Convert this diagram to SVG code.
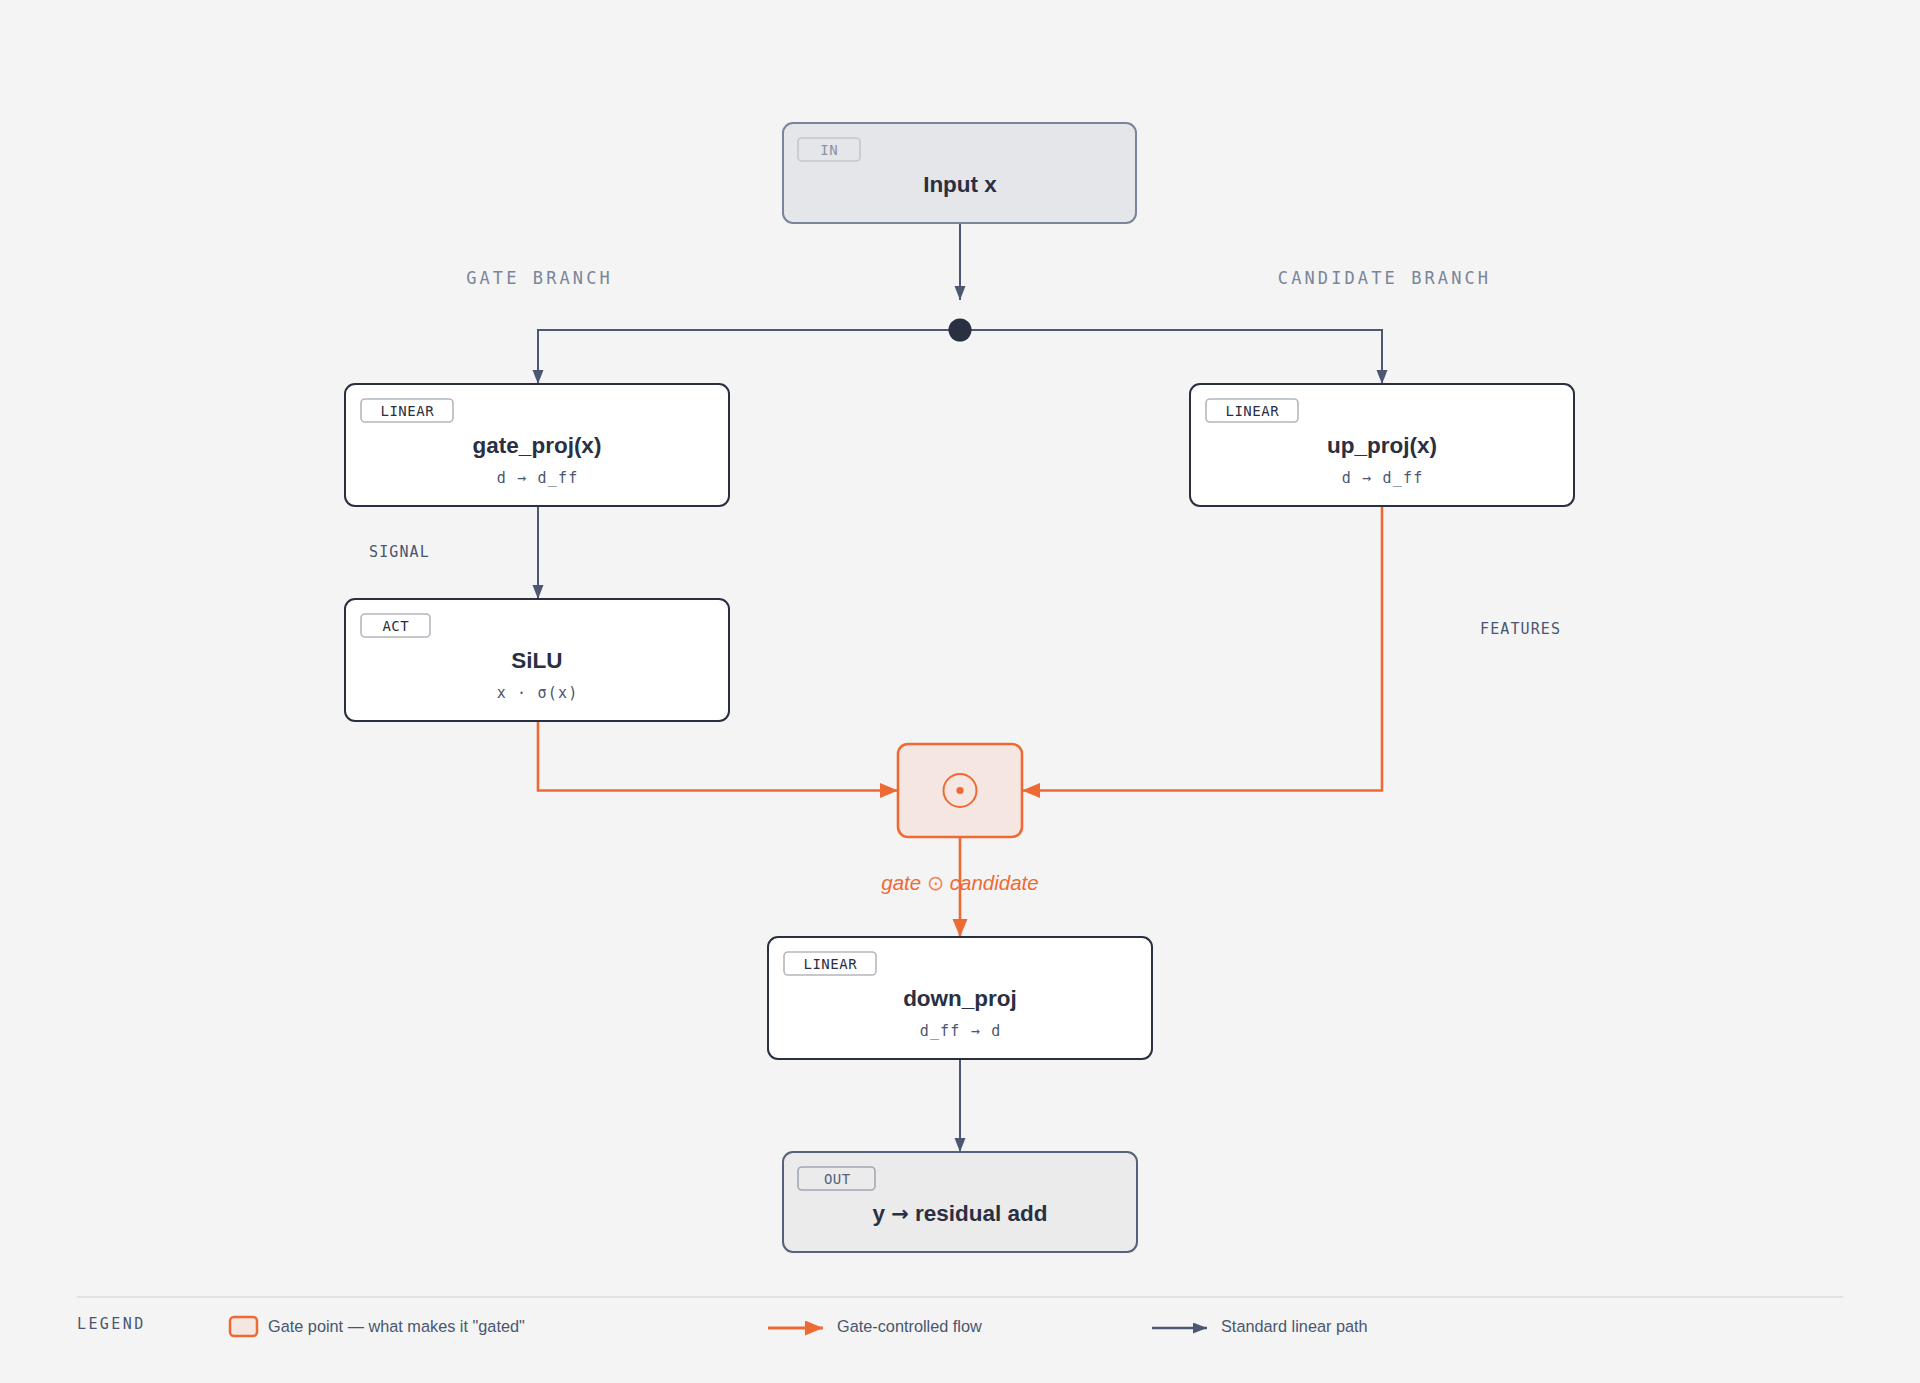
<svg xmlns="http://www.w3.org/2000/svg" width="1920" height="1383" viewBox="0 0 1920 1383">
<defs>
<style>
.bg{fill:#f4f4f4}
.box{fill:#ffffff;stroke:#2a2f42;stroke-width:2}
.tag{fill:#ffffff;stroke:#b4b7be;stroke-width:1.6}
.tagt{font-family:"DejaVu Sans Mono","Liberation Mono",monospace;font-size:14px;letter-spacing:0.5px;fill:#2a2f42;text-anchor:middle}
.title{font-family:"Liberation Sans",Arial,sans-serif;font-size:22.5px;font-weight:bold;fill:#2a2f42;text-anchor:middle}
.sub{font-family:"DejaVu Sans Mono","Liberation Mono",monospace;font-size:15px;letter-spacing:1.2px;fill:#4a5670;text-anchor:middle}
.branch{font-family:"DejaVu Sans Mono","Liberation Mono",monospace;font-size:17px;letter-spacing:3.1px;fill:#7a859a;text-anchor:middle}
.elabel{font-family:"DejaVu Sans Mono","Liberation Mono",monospace;font-size:15px;letter-spacing:1.1px;fill:#4a5670}
.gray{fill:none;stroke:#4c5872;stroke-width:2}
.orange{fill:none;stroke:#ee6a35;stroke-width:2.6}
.legt{font-family:"Liberation Sans",Arial,sans-serif;font-size:16.3px;fill:#4a5670}
</style>
<marker id="ag" markerUnits="userSpaceOnUse" markerWidth="14" markerHeight="12" refX="14" refY="5.5" orient="auto">
<path d="M0,0 L14,5.5 L0,11 z" fill="#4c5872"/>
</marker>
<marker id="ao" markerUnits="userSpaceOnUse" markerWidth="18" markerHeight="16" refX="18" refY="7.5" orient="auto">
<path d="M0,0 L18,7.5 L0,15 z" fill="#ee6a35"/>
</marker>
</defs>
<rect class="bg" x="0" y="0" width="1920" height="1383"/>

<text class="branch" x="539.5" y="284">GATE BRANCH</text>
<text class="branch" x="1384.5" y="284">CANDIDATE BRANCH</text>
<text class="elabel" x="369" y="557">SIGNAL</text>
<text class="elabel" x="1480" y="634">FEATURES</text>

<g id="connectors">
<path class="gray" d="M960,223 V300" marker-end="url(#ag)"/>
<path class="gray" d="M538,384 V330 H1382 V384"/>
<path class="gray" d="M538,330 V384" marker-end="url(#ag)"/>
<path class="gray" d="M1382,330 V384" marker-end="url(#ag)"/>
<circle cx="960" cy="330" r="11.5" fill="#2a2f42"/>
<path class="gray" d="M538,507 V599" marker-end="url(#ag)"/>
<path class="orange" d="M538,722 V790.5 H898" marker-end="url(#ao)"/>
<path class="orange" d="M1382,507 V790.5 H1022" marker-end="url(#ao)"/>
<text x="960" y="890" font-family="Liberation Sans,Arial,sans-serif" font-size="20.5" font-style="italic" fill="#ee6a35" text-anchor="middle">gate <tspan font-style="normal" font-family="DejaVu Sans,sans-serif" fill="#f0875a">⊙</tspan> candidate</text>
<path class="orange" d="M960,838 V937" marker-end="url(#ao)"/>
<path class="gray" d="M960,1059 V1152" marker-end="url(#ag)"/>
</g>

<g id="node-input">
<rect x="783" y="123" width="353" height="100" rx="10" fill="#e5e6e9" stroke="#7a859a" stroke-width="2"/>
<rect x="798" y="138" width="62" height="23" rx="4" fill="none" stroke="#c2c6ce" stroke-width="1.6"/>
<text class="tagt" x="829.3" y="155" style="fill:#8a93a6">IN</text>
<text class="title" x="960" y="192">Input x</text>
</g>

<g id="node-gate-proj">
<rect class="box" x="345" y="384" width="384" height="122" rx="10"/>
<rect class="tag" x="361" y="399" width="92" height="23" rx="4"/>
<text class="tagt" x="407.3" y="416">LINEAR</text>
<text class="title" x="537" y="453">gate_proj(x)</text>
<text class="sub" x="537.6" y="483">d → d_ff</text>
</g>

<g id="node-up-proj">
<rect class="box" x="1190" y="384" width="384" height="122" rx="10"/>
<rect class="tag" x="1206" y="399" width="92" height="23" rx="4"/>
<text class="tagt" x="1252.3" y="416">LINEAR</text>
<text class="title" x="1382" y="453">up_proj(x)</text>
<text class="sub" x="1382.6" y="483">d → d_ff</text>
</g>

<g id="node-silu">
<rect class="box" x="345" y="599" width="384" height="122" rx="10"/>
<rect class="tag" x="361" y="614" width="69" height="23" rx="4"/>
<text class="tagt" x="395.8" y="631">ACT</text>
<text class="title" x="537" y="668">SiLU</text>
<text class="sub" x="537.6" y="698">x · σ(x)</text>
</g>

<g id="node-gate-op">
<rect x="898" y="744" width="124" height="93" rx="10" fill="#f5e6e1" stroke="#ee6a35" stroke-width="2.6"/>
<circle cx="960" cy="790.5" r="16.5" fill="none" stroke="#ee6a35" stroke-width="2"/>
<circle cx="960" cy="790.5" r="3.6" fill="#ee6a35"/>
</g>

<g id="node-down-proj">
<rect class="box" x="768" y="937" width="384" height="122" rx="10"/>
<rect class="tag" x="784" y="952" width="92" height="23" rx="4"/>
<text class="tagt" x="830.3" y="969">LINEAR</text>
<text class="title" x="960" y="1006">down_proj</text>
<text class="sub" x="960.6" y="1036">d_ff → d</text>
</g>

<g id="node-output">
<rect x="783" y="1152" width="354" height="100" rx="10" fill="#ebebeb" stroke="#56627a" stroke-width="2"/>
<rect x="798" y="1167" width="77" height="23" rx="4" fill="none" stroke="#a2a8b4" stroke-width="1.6"/>
<text class="tagt" x="837.3" y="1184" style="fill:#56627a">OUT</text>
<text class="title" x="960" y="1221">y <tspan font-family="DejaVu Sans,sans-serif" font-size="21">→</tspan> residual add</text>
</g>

<g id="legend">
<line x1="77" y1="1297" x2="1843" y2="1297" stroke="#e2e2e2" stroke-width="2"/>
<text x="77" y="1329" font-family="DejaVu Sans Mono,Liberation Mono,monospace" font-size="15" letter-spacing="2.4" fill="#4a5670">LEGEND</text>
<rect x="230" y="1317" width="27" height="19" rx="4" fill="#f5e6e1" stroke="#ee6a35" stroke-width="2.5"/>
<text class="legt" x="268" y="1332">Gate point — what makes it "gated"</text>
<path class="orange" d="M768,1328 H823" marker-end="url(#ao)" style="stroke-width:3"/>
<text class="legt" x="837" y="1332">Gate-controlled flow</text>
<path class="gray" d="M1152,1328 H1207" marker-end="url(#ag)" style="stroke-width:2.5"/>
<text class="legt" x="1221" y="1332">Standard linear path</text>
</g>
</svg>
